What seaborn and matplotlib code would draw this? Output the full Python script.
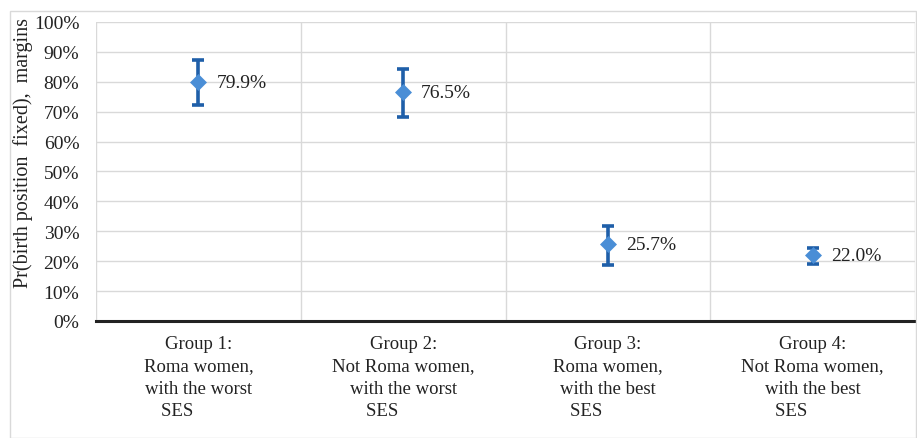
import matplotlib
matplotlib.use("Agg")
import matplotlib.pyplot as plt
from matplotlib.patches import Rectangle
from matplotlib.ticker import PercentFormatter, MultipleLocator, FixedLocator
import seaborn as sns
import pandas as pd
import numpy as np

# Predicted margins with 95% confidence intervals
groups = [
    "Group 1:\nRoma women,\nwith the worst\nSES         ",
    "Group 2:\nNot Roma women,\nwith the worst\nSES         ",
    "Group 3:\nRoma women,\nwith the best\nSES         ",
    "Group 4:\nNot Roma women,\nwith the best\nSES         ",
]
margins = [0.799, 0.765, 0.257, 0.220]
ci_low = [0.722, 0.682, 0.187, 0.191]
ci_high = [0.873, 0.843, 0.318, 0.244]
value_labels = ["79.9%", "76.5%", "25.7%", "22.0%"]

df = pd.DataFrame({"group": groups, "margin": margins,
                   "lo": ci_low, "hi": ci_high, "label": value_labels})

sns.set_theme(style="white")
plt.rcParams["font.family"] = ["Liberation Serif", "DejaVu Serif"]
plt.rcParams["font.size"] = 14

W, H = 917, 439
fig = plt.figure(figsize=(W / 100, H / 100), dpi=100)
fig.patch.set_facecolor("white")

# outer frame
fig.patches.append(Rectangle((10 / W, 0), (916 - 10) / W, (H - 12) / H,
                             transform=fig.transFigure, fill=False,
                             edgecolor="#d9d9d9", linewidth=1.0))

ax = fig.add_axes([96 / W, 1 - 322 / H, (915 - 96) / W, (322 - 23) / H])
ax.set_facecolor("white")

xpos = np.arange(len(df))
err = np.vstack([df["margin"] - df["lo"], df["hi"] - df["margin"]])
ax.errorbar(xpos, df["margin"], yerr=err, fmt="none", ecolor="#1f5fa9",
            elinewidth=2.6, capsize=4.5, capthick=2.6, zorder=3)
sns.scatterplot(x=xpos, y=df["margin"], marker="D", s=75, color="#4a8ed6",
                edgecolor="#4a8ed6", linewidth=0, zorder=4, ax=ax, legend=False)

for x, y, t in zip(xpos, df["margin"], df["label"]):
    ax.annotate(t, (x, y), xytext=(13, 0), textcoords="offset points",
                va="center", ha="left", fontsize=14, color="#222222")

ax.set_xlim(-0.5, len(df) - 0.5)
ax.set_ylim(0, 1)
ax.yaxis.set_major_locator(MultipleLocator(0.1))
ax.yaxis.set_major_formatter(PercentFormatter(1.0, decimals=0))
ax.set_xticks(xpos)
ax.set_xticklabels(df["group"], fontsize=13.5, linespacing=1.42)
ax.xaxis.set_minor_locator(FixedLocator(np.arange(-0.5, len(df), 1.0)))

ax.grid(axis="y", which="major", color="#d9d9d9", linewidth=1.0)
ax.grid(axis="x", which="minor", color="#d9d9d9", linewidth=1.0)
ax.grid(axis="x", which="major", visible=False)
ax.tick_params(axis="both", which="both", length=0)
ax.tick_params(axis="y", pad=12, labelsize=14, labelcolor="#222222")
ax.tick_params(axis="x", pad=10, labelcolor="#222222")

for s in ["top", "right", "left"]:
    ax.spines[s].set_visible(False)
ax.spines["bottom"].set_color("#222222")
ax.spines["bottom"].set_linewidth(2.2)
ax.spines["bottom"].set_zorder(5)
ax.set_xlabel("")
ax.set_ylabel("")

fig.text(23 / W, 1 - 153 / H, "Pr(birth position  fixed),  margins",
         rotation=90, ha="center", va="center", fontsize=14.5, color="#222222")

fig.savefig("out.png", dpi=100, facecolor="white")
